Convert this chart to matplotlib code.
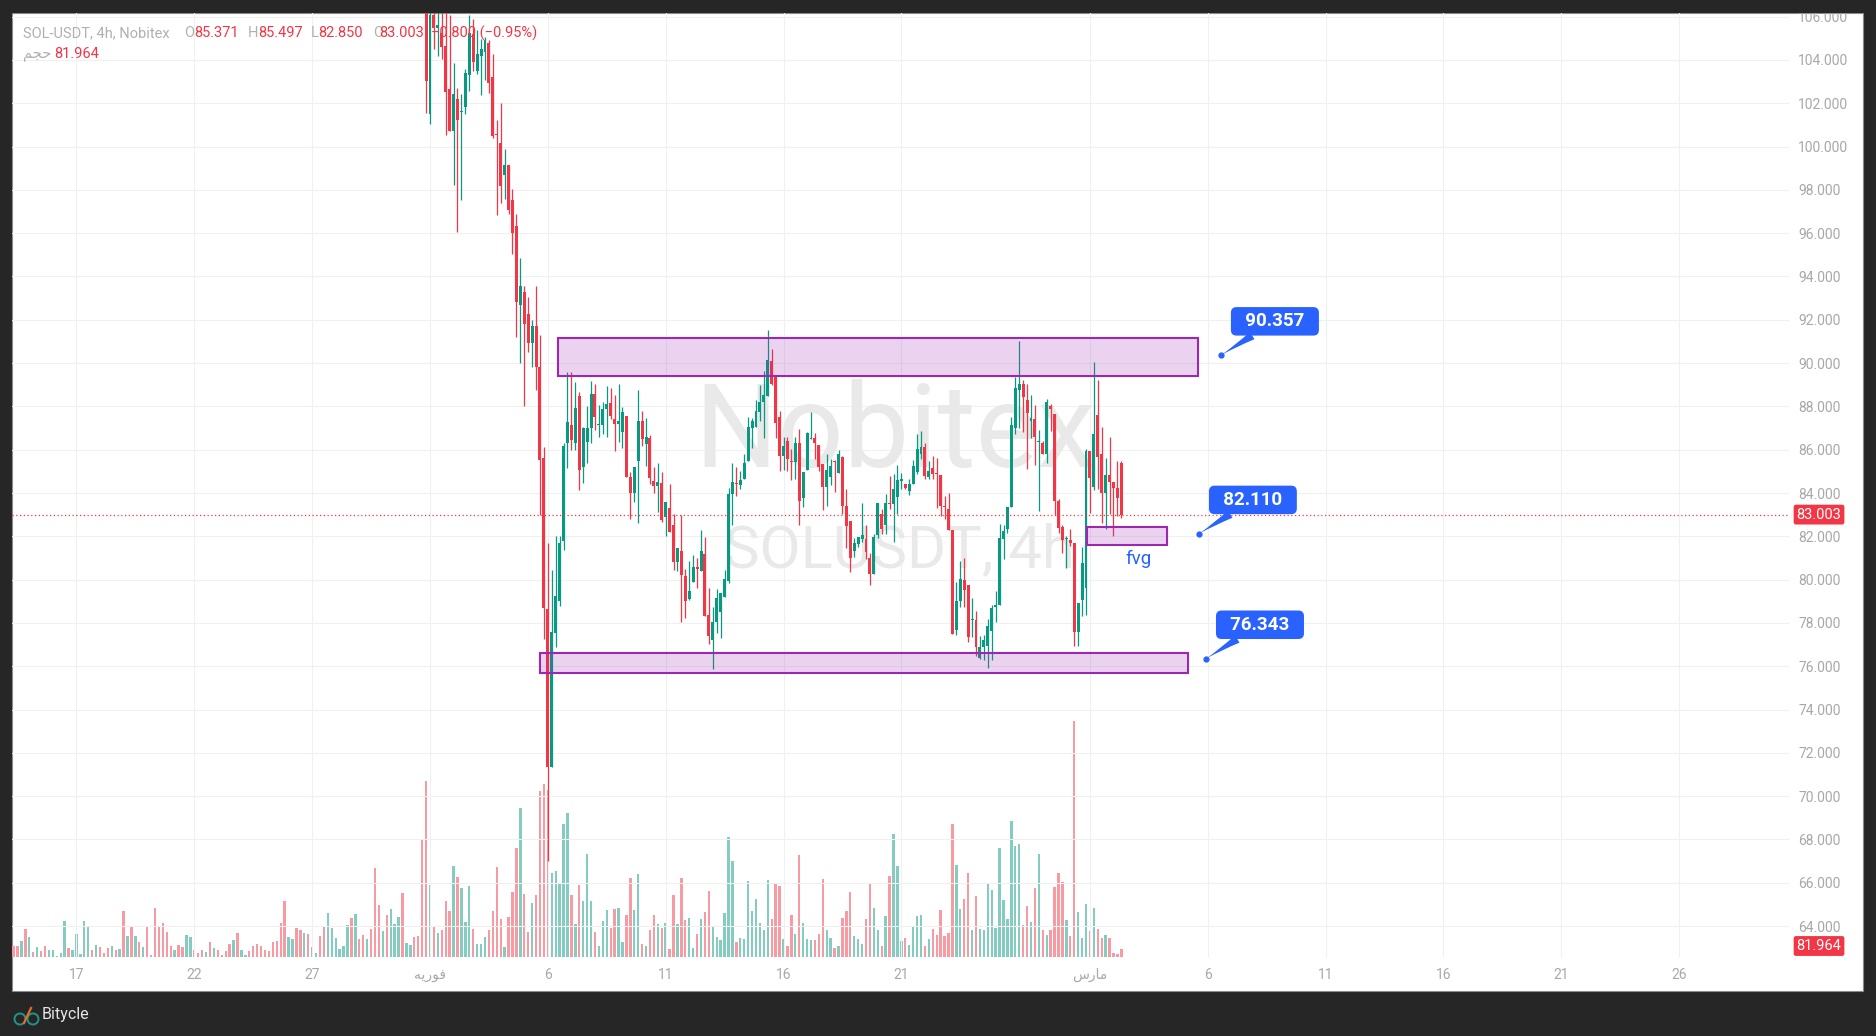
import numpy as np
import pandas as pd
import matplotlib
matplotlib.use('Agg')
import matplotlib.pyplot as plt
import matplotlib.dates as mdates
from matplotlib.patches import Rectangle, Circle
from matplotlib.transforms import IdentityTransform

plt.rcParams['font.family'] = ['Roboto', 'DejaVu Sans']

W, H = 1876, 1036
UP, DOWN = '#089981', '#f23645'
BLUE = '#2962ff'

# volume of the older 4h candles whose prices sit above the visible range
early_volume = [11, 11, 16, 28, 20, 5, 10, 6, 11, 7,
                7, 1, 4, 36, 9, 7, 23, 3, 36, 30,
                7, 12, 10, 4, 9, 11, 7, 8, 46, 21,
                31, 21, 15, 10, 31, 2, 49, 30, 34, 25,
                11, 7, 12, 10, 22, 20, 7, 4, 7, 5,
                15, 9, 7, 2, 6, 13, 17, 24, 7, 2,
                6, 11, 13, 11, 7, 6, 15, 16, 34, 56,
                20, 18, 29, 27, 24, 23, 10, 4, 21, 30,
                44, 29, 19, 8, 11, 32, 39, 43, 18, 22,
                18, 28, 89, 52, 26, 42, 48, 33, 40, 64,
                14, 12, 20, 21, 117]
early_dir = ("rrgrgrgrrg" "ggggrggggg" "rgrrrgrgrg" "rgrgrrrrrr" "rgrrggrrrg"
             "rgrrrrgrgg" "rrrrrrrrrr" "ggrrgrggrr" "ggggggrgrr" "grrrgrgggr" "ggrrr")

# visible candles (Jan 31 20:00 .. Mar 2 08:00)
open_ = [107.5, 101.49, 106.06, 105.49, 105.26, 104.65, 102.65, 100.72, 102.18, 101.58,
         101.83, 103.3, 105.2, 103.5, 104.2, 104.37, 104.78, 103.2, 100.6, 100.15,
         98.68, 99.14, 97.52, 96.32, 92.7, 93.3, 92.28, 90.95, 91.72, 89.83,
         85.6, 78.66, 71.33, 77.53, 79.0, 81.8, 86.3, 87.16, 86.3, 88.5,
         85.21, 86.37, 86.98, 88.57, 87.15, 87.15, 87.88, 88.15, 87.41, 87.2,
         86.8, 87.54, 84.73, 84.01, 85.49, 87.31, 86.27, 86.52, 84.55, 84.33,
         84.46, 82.9, 83.33, 82.5, 80.82, 81.33, 80.17, 79.12, 79.91, 80.6,
         80.42, 81.2, 78.35, 77.21, 78.02, 78.51, 79.2, 79.94, 83.96, 84.46,
         84.38, 84.64, 85.49, 87.01, 87.06, 87.75, 88.19, 88.49, 90.1, 89.37,
         87.5, 85.69, 86.4, 85.5, 85.45, 86.29, 83.79, 85.07, 86.5, 86.53,
         86.2, 85.33, 84.28, 84.76, 85.49, 84.93, 85.67, 83.4, 82.69, 81.32,
         81.63, 81.86, 81.89, 81.02, 80.28, 82.04, 83.05, 82.52, 83.55, 83.48,
         83.82, 84.56, 84.4, 84.1, 84.4, 84.99, 85.79, 86.13, 84.74, 85.14,
         84.91, 84.82, 83.4, 83.28, 82.27, 77.69, 79.0, 79.99, 79.73, 78.13,
         78.15, 76.38, 76.87, 76.92, 77.61, 78.74, 78.85, 81.86, 82.35, 83.35,
         86.98, 88.77, 89.03, 88.31, 87.34, 87.41, 86.36, 86.33, 85.79, 88.0,
         87.65, 83.63, 82.44, 81.88, 81.83, 81.7, 77.57, 79.05, 79.59, 85.92,
         84.28, 87.6, 85.79, 84.0, 84.84, 84.53, 84.25, 85.371]
high = [108.5, 106.5, 106.5, 106.3, 106.3, 106.4, 106.06, 103.85, 102.72, 102.42,
        103.57, 106.06, 105.9, 105.4, 104.95, 105.06, 104.9, 104.26, 101.23, 102.0,
        99.88, 99.14, 98.03, 96.88, 94.84, 93.54, 93.05, 92.0, 93.54, 91.3,
        86.14, 81.7, 80.45, 82.0, 82.0, 86.33, 89.6, 89.6, 89.15, 88.65,
        87.03, 88.03, 89.16, 89.03, 88.06, 88.2, 88.94, 88.83, 88.52, 89.03,
        87.95, 87.54, 84.96, 85.2, 88.74, 87.78, 87.45, 86.67, 85.2, 85.38,
        84.98, 83.6, 84.41, 83.02, 81.44, 83.0, 80.48, 80.87, 81.13, 81.0,
        82.27, 81.99, 79.59, 78.74, 79.56, 79.4, 80.45, 84.21, 85.38, 85.2,
        85.01, 85.8, 87.5, 87.48, 88.31, 88.99, 89.62, 91.53, 90.64, 89.37,
        87.78, 86.6, 86.6, 86.02, 86.6, 86.95, 84.99, 86.83, 87.74, 86.75,
        86.2, 85.33, 85.79, 85.56, 85.52, 86.0, 85.72, 84.17, 82.69, 81.93,
        81.98, 83.52, 82.5, 81.24, 82.09, 83.52, 83.28, 83.97, 84.79, 84.87,
        85.28, 84.94, 84.4, 84.64, 85.52, 86.72, 86.86, 86.33, 85.48, 85.72,
        85.61, 84.82, 83.86, 84.02, 82.27, 79.88, 80.85, 81.0, 79.73, 79.15,
        78.54, 77.41, 77.46, 78.19, 78.85, 79.47, 82.55, 82.54, 83.37, 87.52,
        89.37, 91.04, 89.22, 89.03, 88.52, 88.06, 86.9, 86.41, 88.34, 88.1,
        87.65, 83.71, 82.52, 82.01, 82.35, 81.7, 78.9, 81.52, 86.03, 85.92,
        90.07, 89.22, 87.03, 85.62, 86.61, 84.53, 85.48, 85.497]
low = [101.57, 101.03, 104.49, 104.18, 104.03, 100.52, 100.7, 98.23, 96.06, 97.54,
       101.49, 102.57, 103.5, 103.34, 102.4, 103.08, 102.46, 100.4, 96.83, 97.4,
       97.6, 96.9, 95.03, 91.22, 90.02, 88.0, 90.5, 89.8, 88.75, 83.0,
       77.26, 67.0, 71.33, 76.9, 78.8, 81.35, 85.17, 86.0, 86.0, 84.15,
       84.46, 85.38, 86.32, 86.92, 86.6, 86.72, 86.58, 87.43, 85.95, 86.34,
       86.09, 84.75, 82.81, 83.59, 82.62, 86.18, 85.26, 84.41, 84.02, 83.13,
       82.67, 82.02, 82.2, 80.45, 80.39, 78.05, 78.23, 79.06, 79.91, 79.6,
       80.42, 78.3, 77.01, 75.86, 77.52, 77.32, 79.2, 79.86, 82.53, 83.87,
       84.19, 84.64, 85.49, 86.06, 87.06, 87.34, 86.55, 88.49, 88.99, 86.55,
       85.02, 85.07, 85.02, 84.6, 84.67, 82.52, 83.35, 85.07, 86.5, 85.56,
       85.02, 83.2, 83.4, 84.37, 84.05, 84.93, 83.05, 81.44, 80.36, 81.04,
       81.52, 81.73, 80.93, 79.74, 80.28, 81.9, 82.09, 82.09, 83.25, 81.73,
       83.05, 84.17, 84.17, 83.9, 84.4, 84.9, 85.56, 84.67, 84.67, 84.67,
       83.32, 82.94, 82.81, 82.29, 77.49, 77.46, 78.74, 78.74, 77.1, 77.35,
       76.49, 76.33, 76.3, 75.92, 76.3, 78.03, 78.85, 80.96, 82.17, 83.35,
       86.72, 86.98, 86.83, 85.1, 86.56, 85.31, 83.15, 85.79, 85.38, 86.87,
       82.97, 82.17, 81.24, 80.55, 81.55, 76.92, 76.92, 78.34, 78.37, 83.06,
       84.14, 84.17, 82.63, 82.35, 83.02, 82.01, 82.94, 82.85]
close = [103.03, 106.06, 105.49, 105.6, 104.6, 102.52, 100.72, 102.42, 101.23, 101.62,
         103.42, 105.26, 103.9, 104.26, 104.5, 104.9, 102.95, 100.49, 100.55, 98.18,
         99.14, 97.06, 96.0, 92.81, 93.54, 91.79, 90.95, 91.72, 89.8, 85.54,
         78.7, 71.33, 77.6, 79.25, 81.7, 86.17, 87.3, 86.46, 87.94, 85.07,
         87.0, 87.0, 88.57, 87.52, 87.18, 87.88, 88.11, 87.55, 87.21, 87.32,
         87.72, 84.75, 84.0, 85.2, 87.31, 86.49, 86.58, 84.7, 84.33, 84.49,
         82.75, 83.6, 82.2, 80.82, 81.44, 80.22, 79.02, 79.48, 80.6, 80.48,
         81.34, 78.3, 77.4, 78.02, 79.17, 79.4, 80.02, 83.95, 84.49, 84.41,
         84.6, 85.38, 87.04, 87.32, 87.78, 88.22, 88.52, 90.15, 89.03, 87.23,
         85.69, 86.16, 85.58, 85.45, 86.29, 83.63, 84.99, 86.75, 86.56, 86.3,
         85.2, 84.28, 85.05, 85.25, 85.45, 85.79, 83.4, 82.48, 80.99, 81.67,
         81.98, 82.04, 81.27, 80.28, 81.98, 83.52, 82.32, 83.56, 83.5, 84.17,
         84.59, 84.67, 84.25, 84.4, 85.25, 86.02, 86.13, 84.79, 85.02, 84.87,
         84.87, 83.4, 83.35, 82.29, 77.49, 79.03, 80.04, 79.54, 77.35, 78.17,
         76.87, 76.87, 77.2, 77.88, 78.69, 78.85, 81.9, 82.23, 83.35, 87.14,
         88.85, 89.03, 88.45, 87.69, 87.47, 86.58, 86.38, 85.79, 88.19, 87.88,
         83.63, 82.4, 81.83, 81.92, 81.7, 77.57, 78.9, 80.75, 85.92, 84.7,
         86.72, 85.67, 84.0, 84.84, 84.51, 84.25, 83.79, 83.003]
volume = [176, 72, 31, 24, 27,
          56, 46, 91, 80, 69, 35, 71, 28, 13, 13,
          20, 27, 46, 90, 38, 10, 40, 65, 109, 149,
          63, 25, 54, 62, 166, 173, 167, 84, 86, 73,
          133, 144,
          62, 33, 72, 56, 103, 56, 25, 11, 36, 47,
          29, 48, 49, 15, 42, 79, 47, 83, 13, 11,
          27, 42, 33, 29, 34, 8, 62, 33, 79, 37,
          39, 9, 23, 38, 45, 66, 30, 20, 17, 44,
          120, 96, 15, 19, 18, 76, 46, 58, 34, 27,
          77, 38, 74, 71, 18, 11, 42, 23, 102, 34,
          18, 17, 17, 23, 78, 27, 19, 9, 11, 39,
          46, 65, 21, 18, 13, 38, 73, 49, 27, 11,
          41, 81, 123, 91, 16, 19, 12, 30, 41, 42,
          11, 18, 28, 22, 47, 21, 24, 133, 92, 48,
          58, 84, 27, 61, 28, 27, 74, 67, 29, 109,
          57, 38, 136, 111, 113, 32, 51, 35, 69, 103,
          27, 22, 27, 70, 84, 75, 37, 21, 236, 45,
          19, 53, 26, 49, 28, 19, 22, 19, 4, 3,
          8]
last_volume = 81.964

price_ticks = list(range(64, 107, 2))
date_ticks = ['2026-01-17', '2026-01-22', '2026-01-27', '2026-02-01', '2026-02-06',
              '2026-02-11', '2026-02-16', '2026-02-21', '2026-03-01', '2026-03-06',
              '2026-03-11', '2026-03-16', '2026-03-21', '2026-03-26']
feb = '\uFEEA\uFEF3\uFEAD\uFEEE\uFED3'   # فوریه
mar = '\uFEB1\uFEAD\uFE8E\uFEE3'         # مارس
vol_word = '\uFEE2\uFEA0\uFEA3'          # حجم
date_labels = ['17', '22', '27', feb, '6', '11', '16', '21', mar, '6', '11', '16', '21', '26']

# (start, end, low price, high price)
zones = [('2026-02-06 10:48', '2026-03-05 14:24', 89.42, 91.16),
         ('2026-02-05 15:36', '2026-03-05 03:36', 75.69, 76.61),
         ('2026-02-28 21:12', '2026-03-04 06:43', 81.58, 82.44)]
fvg_label = ('2026-03-03 01:36', 80.95)
callouts = [('2026-03-06 13:12', 90.357), ('2026-03-05 14:48', 82.110), ('2026-03-05 22:00', 76.343)]

# ---------------------------------------------------------------
t_all = mdates.date2num(pd.date_range('2026-01-14 08:00', periods=len(early_volume) + len(open_), freq='4h'))
t_early = t_all[:len(early_volume)]
t = t_all[len(early_volume):]
o, h, l, c = map(np.array, (open_, high, low, close))
vol_scale = last_volume / volume[-1]
vol_e = np.array(early_volume) * vol_scale
vol = np.array(volume) * vol_scale
up = c >= o
bar_w = 0.75 / 6

fig = plt.figure(figsize=(W / 100, H / 100), dpi=100, facecolor='#262626')

def px(x, y):
    return x / W, 1 - y / H

# white chart panel
fig.patches.append(Rectangle(px(12, 991), (1863 - 12) / W, (991 - 13) / H, transform=fig.transFigure,
                             facecolor='white', edgecolor='#8a8a8a', lw=0.8, zorder=0))

l0, b0 = px(12, 957)
ax2 = fig.add_axes([l0, b0, (1789 - 12) / W, (957 - 13) / H], zorder=1)
ax = fig.add_axes([l0, b0, (1789 - 12) / W, (957 - 13) / H], zorder=2, sharex=ax2)
ax.patch.set_visible(False)
ax2.patch.set_visible(False)

feb1 = mdates.date2num(pd.Timestamp('2026-02-01'))
ax2.set_xlim(feb1 - 17.734, feb1 + 57.66)
ax.set_ylim(62.57, 106.17)
ax2.set_ylim(0, 944 * vol_scale)

# volume
vol_c_e = ['#84ccc0' if d == 'g' else '#f79aa1' for d in early_dir]
vol_c = np.where(up, '#84ccc0', '#f79aa1')
ax2.bar(t_early, vol_e, width=0.6 / 6, color=vol_c_e, linewidth=0)
ax2.bar(t, vol, width=0.6 / 6, color=vol_c, linewidth=0)
ax2.axis('off')

# grid
for p in price_ticks:
    ax.axhline(p, color='#f0f0f0', lw=0.8, zorder=0)
for d in date_ticks:
    ax.axvline(mdates.date2num(pd.Timestamp(d)), color='#f0f0f0', lw=0.8, zorder=0)

# watermark
ax.text(0.4967, 0.553, 'Nobitex', transform=ax.transAxes, fontsize=84, color='#e9e9e9',
        ha='center', va='center', zorder=0.5)
ax.text(0.4995, 0.43, 'SOLUSDT, 4h', transform=ax.transAxes, fontsize=43, color='#e9e9e9',
        ha='center', va='center', zorder=0.5)

# candles
col = np.where(up, UP, DOWN)
ax.vlines(t, l, h, colors=col, lw=0.9, zorder=2)
body = np.maximum(np.abs(c - o), 0.05)
ax.bar(t, body, bottom=np.minimum(o, c), width=bar_w, color=col, linewidth=0, zorder=3)

# zones
for s, e, lo, hi in zones:
    x0 = mdates.date2num(pd.Timestamp(s))
    x1 = mdates.date2num(pd.Timestamp(e))
    ax.add_patch(Rectangle((x0, lo), x1 - x0, hi - lo, facecolor=(156 / 255, 39 / 255, 176 / 255, 0.2),
                           edgecolor='#9c27b0', lw=1.5, zorder=4))
ax.text(mdates.date2num(pd.Timestamp(fvg_label[0])), fvg_label[1], 'fvg', color=BLUE,
        fontsize=13.5, ha='center', va='center', zorder=5)

# callouts
for d, v in callouts:
    xd = mdates.date2num(pd.Timestamp(d))
    ax.plot([xd], [v], 'o', color=BLUE, ms=3.5, zorder=6)
    ax.annotate(f'  {v:.3f}  ', xy=(xd, v), xytext=(39, 24.5), textcoords='offset points',
                ha='center', va='center', color='white', fontsize=13.5, fontweight='bold',
                bbox=dict(boxstyle='round,pad=0.28,rounding_size=0.3', fc=BLUE, ec='none'),
                arrowprops=dict(arrowstyle='wedge,tail_width=0.45,shrink_factor=0.4', fc=BLUE, ec='none',
                                shrinkA=0, shrinkB=1),
                zorder=6)

# current price line + labels
ax.axhline(c[-1], color=DOWN, lw=0.9, ls=(0, (1, 2)), zorder=4)
ax.text(1.0169, c[-1], f'{c[-1]:.3f}', transform=ax.get_yaxis_transform(), ha='center', va='center',
        color='white', fontsize=10.5, clip_on=False, zorder=7,
        bbox=dict(boxstyle='round,pad=0.2,rounding_size=0.15', fc=DOWN, ec='none'))
ax2.text(1.0169, vol[-1] + 3 * vol_scale, f'{last_volume:.3f}', transform=ax2.get_yaxis_transform(),
         ha='center', va='center', color='white', fontsize=10.5, clip_on=False,
         bbox=dict(boxstyle='round,pad=0.2,rounding_size=0.15', fc=DOWN, ec='none'))

# axes ticks
ax.yaxis.tick_right()
ax.set_yticks(price_ticks)
ax.set_yticklabels([f'{p:.3f}' for p in price_ticks])
ax.set_xticks([mdates.date2num(pd.Timestamp(d)) for d in date_ticks])
ax.set_xticklabels(date_labels)
ax.tick_params(axis='y', length=0, pad=6.5, labelsize=10, labelcolor='#a8a8a8')
ax.tick_params(axis='x', length=0, pad=8, labelsize=10, labelcolor='#a8a8a8')
for sp in ax.spines.values():
    sp.set_visible(False)

# header legend
def ftext(x, y, s, **kw):
    fig.text(*px(x, y), s, va='center', ha='left', fontsize=10.5, zorder=20, **kw)

GRAY = '#b0b0b0'
ftext(23, 33, 'SOL-USDT, 4h, Nobitex', color=GRAY)
for lab, xl, val, xv in [('O', 184, o[-1], 194), ('H', 248, h[-1], 258), ('L', 311, l[-1], 318),
                         ('C', 373, c[-1], 379)]:
    ftext(xl, 33, lab, color=GRAY)
    ftext(xv, 33, f'{val:.3f}', color=DOWN)
ftext(431, 33, '\u22120.800 (\u22120.95%)', color=DOWN)
ftext(23, 54, vol_word, color=GRAY)
ftext(54, 54, f'{last_volume:.3f}', color=DOWN)

# dark top frame (clips the top tick label)
fig.patches.append(Rectangle((0, 1 - 12.5 / H), 1, 12.5 / H, transform=fig.transFigure,
                             facecolor='#262626', edgecolor='none', zorder=30))

# footer logo
idt = IdentityTransform()
fig.patches.append(Circle((20, H - 1019), 5.5, transform=idt, fill=False, ec='#1f9688', lw=1.4, zorder=31))
fig.patches.append(Circle((33, H - 1019), 5.5, transform=idt, fill=False, ec='#1f9688', lw=1.4, zorder=31))
fig.lines.append(plt.Line2D([24, 31], [H - 1023, H - 1008], transform=idt, color='#e8692a', lw=1.6, zorder=32))
fig.text(*px(42, 1015), 'Bitycle', color='#e6e6e6', fontsize=11.5, va='center', ha='left')

fig.savefig('out.png', dpi=100, facecolor=fig.get_facecolor())
